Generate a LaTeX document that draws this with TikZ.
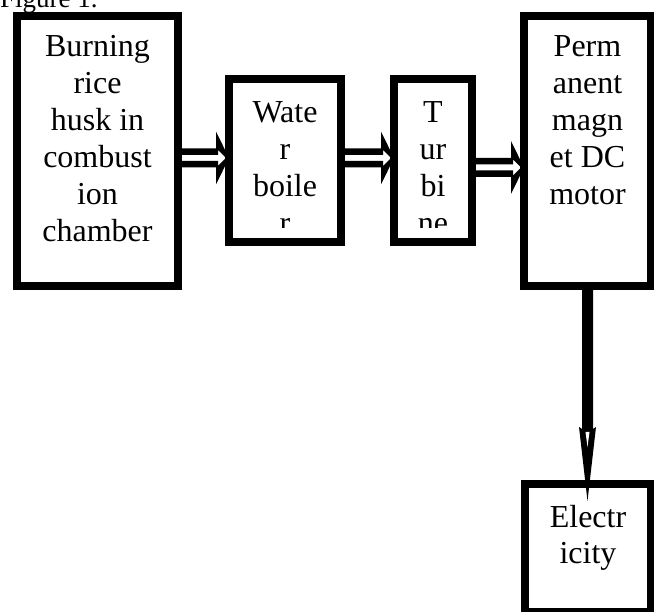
\documentclass[tikz,border=0pt]{standalone}
\usepackage{fontspec}
\setmainfont{Liberation Serif}
\usetikzlibrary{calc}
\begin{document}
\begin{tikzpicture}[x=1pt,y=-1pt,
  box/.style={draw=black, line width=8pt, fill=white, inner sep=0pt, outer sep=0pt},
  txt/.style={font=\fontsize{32}{37}\selectfont, inner sep=0pt, anchor=base, text=black},
  figtxt/.style={font=\fontsize{27}{30}\selectfont, inner sep=0pt, anchor=base west}]
\useasboundingbox (0,0) rectangle (654,612);
\clip (0,0) rectangle (654,612);
% boxes
\node[box, minimum width=161pt, minimum height=270pt] (b1) at (97.5,151) {};
\node[box, minimum width=112pt, minimum height=163pt] (b2) at (285,160.5) {};
\node[box, minimum width=78pt, minimum height=163pt] (b3) at (433,160.5) {};
\node[box, minimum width=127pt, minimum height=270pt] (b4) at (587.5,151) {};
\node[box, minimum width=126pt, minimum height=128pt] (b5) at (588,548) {};
% horizontal block arrows (outlined)
\foreach \a/\b/\s in {b1/b2/-7pt, b2/b3/2.5pt, b3/b4/-7pt}{
  \fill[black, even odd rule] let \p1=([yshift=\s]\a.east), \p2=(\b.west) in
    (\x1-4pt,\y1-9.5pt) -- (\x2-13pt,\y1-9.5pt) -- (\x2-13pt,\y1-26.5pt) -- (\x2,\y1)
    -- (\x2-13pt,\y1+26.5pt) -- (\x2-13pt,\y1+9.5pt) -- (\x1-4pt,\y1+9.5pt) -- cycle
    (\x1-4pt,\y1-3pt) -- (\x2-11pt,\y1-3pt) -- (\x2-11pt,\y1-8pt) -- (\x2-3pt,\y1)
    -- (\x2-11pt,\y1+8pt) -- (\x2-11pt,\y1+3pt) -- (\x1-4pt,\y1+3pt) -- cycle;
}
% vertical arrow
\fill[black] let \p1=(b4.south), \p2=(b5.north) in
  (\x1-5.5pt,\y1+2pt) -- (\x1+5.5pt,\y1+2pt) -- (\x1+5.5pt,\y2+55pt)
  -- (\x1+8.5pt,\y2+57pt) -- (\x1,\y2-17pt) -- (\x1-8.5pt,\y2+57pt)
  -- (\x1-5.5pt,\y2+55pt) -- cycle;
\fill[white] let \p1=(b4.south), \p2=(b5.north) in
  (\x1-2pt,\y2+52pt) -- (\x1+2pt,\y2+52pt) -- (\x1,\y2+37pt) -- cycle;
% title
\node[figtxt] (fig) at (0,7.5) {Figure 1.};
% texts
\foreach \t [count=\i from 0] in {Burning, rice, husk in, combust, ion, chamber}
  \node[txt] (b1t\i) at (97.5,{57+37*\i}) {\t};
\begin{scope}
  \clip (229,83) rectangle (341,228);
  \foreach \t [count=\i from 0] in {Wate, r, boile, r}
    \node[txt] (b2t\i) at (285,{123+37*\i}) {\t};
\end{scope}
\begin{scope}
  \clip (398,83) rectangle (468,228);
  \foreach \t [count=\i from 0] in {T, ur, bi, ne}
    \node[txt] (b3t\i) at (433,{123+37*\i}) {\t};
\end{scope}
\foreach \t [count=\i from 0] in {Perm, anent, magn, et DC, motor}
  \node[txt] (b4t\i) at (587.5,{57+37*\i}) {\t};
\foreach \t [count=\i from 0] in {Electr, icity}
  \node[txt] (b5t\i) at (588,{527+36*\i}) {\t};
\end{tikzpicture}
\end{document}
